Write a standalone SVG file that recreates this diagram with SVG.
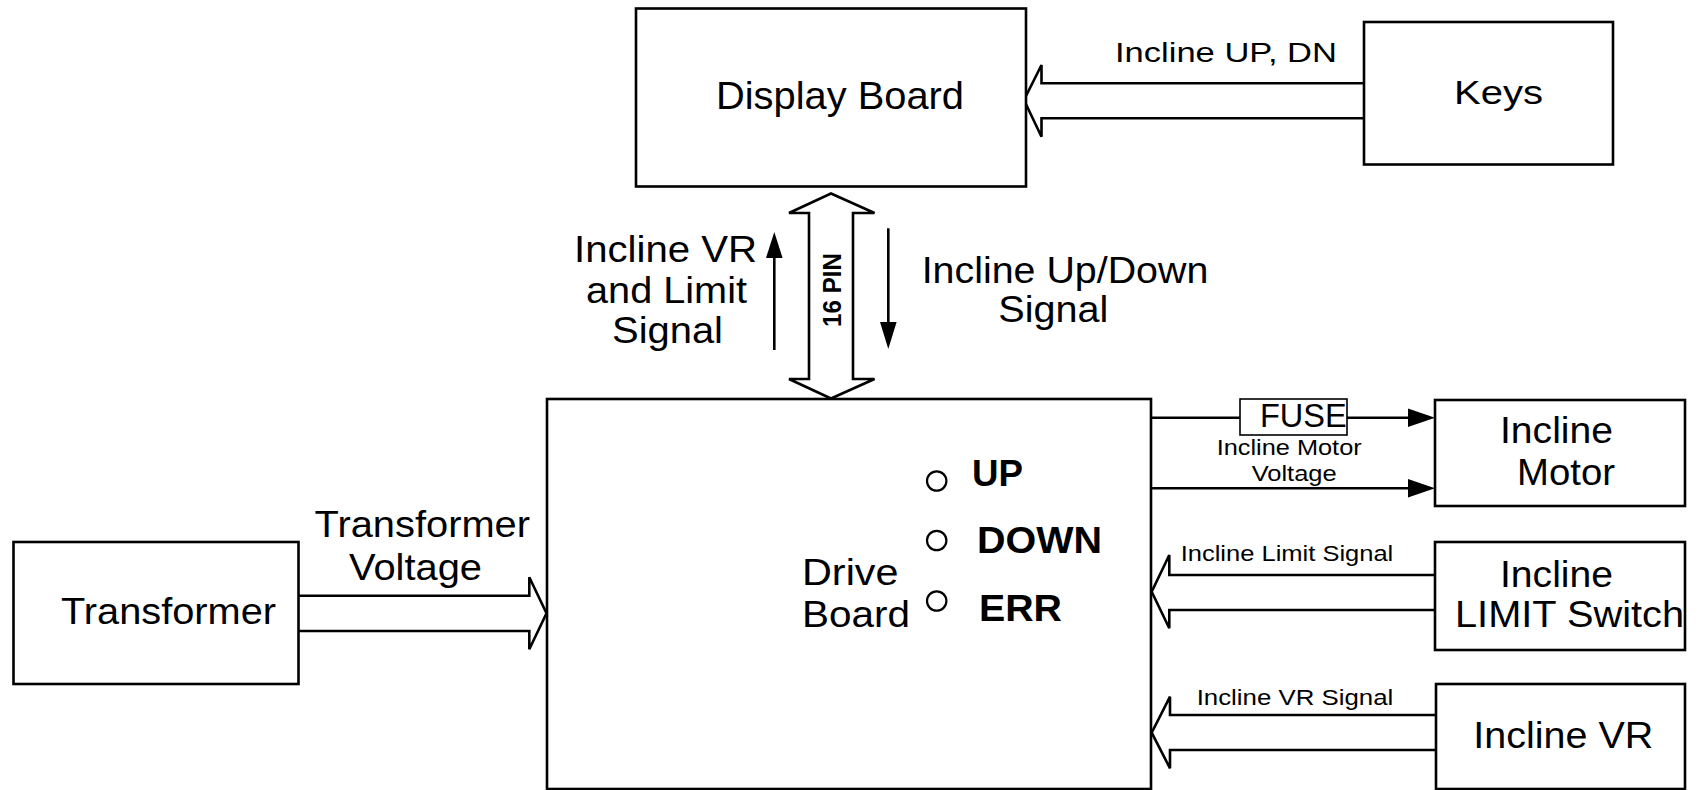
<svg xmlns="http://www.w3.org/2000/svg" width="1699" height="790" viewBox="0 0 1699 790">
<style>
  .box { fill: #ffffff; stroke: #000000; stroke-width: 2.6; }
  .conn { fill: none; stroke: #000000; stroke-width: 2.6; }
  .hollow { fill: #ffffff; stroke: #000000; stroke-width: 2.6; stroke-linejoin: miter; }
  .head { fill: #000000; stroke: none; }
  .led { fill: #ffffff; stroke: #000000; stroke-width: 2.2; }
  text { font-family: "Liberation Sans", Arial, sans-serif; fill: #000000; }
  .big { font-size: 36px; }
  .mid { font-size: 28px; }
  .small { font-size: 22px; }
  .bold { font-weight: bold; }
</style>
<rect width="1699" height="790" fill="#ffffff"/>

<g id="connectors">
  <!-- Keys -> Display Board -->
  <path class="hollow" d="M1364,83.3 L1041.5,83.3 L1041.5,65 L1024,100 L1041.5,136.7 L1041.5,118.3 L1364,118.3"/>
  <!-- 16 PIN double arrow -->
  <path class="hollow" d="M809,213 L789,213 L831,193.5 L874.5,213 L853,213 L853,379 L874.5,379 L831,398.5 L789,379 L809,379 Z"/>
  <!-- up arrow -->
  <line class="conn" x1="774.3" y1="350" x2="774.3" y2="255"/>
  <polygon class="head" points="774.3,232 766,258 782.6,258"/>
  <!-- down arrow -->
  <line class="conn" x1="888.3" y1="228.3" x2="888.3" y2="324"/>
  <polygon class="head" points="888.3,349 880,322 896.6,322"/>
  <!-- FUSE line to motor -->
  <line class="conn" x1="1151" y1="417.7" x2="1240" y2="417.7"/>
  <line class="conn" x1="1347" y1="417.7" x2="1410" y2="417.7"/>
  <polygon class="head" points="1435,417.7 1408,408.5 1408,427"/>
  <!-- second motor line -->
  <line class="conn" x1="1151" y1="488.3" x2="1410" y2="488.3"/>
  <polygon class="head" points="1435,488.3 1408,479 1408,497.5"/>
  <!-- Limit switch -> Drive board -->
  <path class="hollow" d="M1435,575 L1169.3,575 L1169.3,555 L1151.7,591.7 L1169.3,628.3 L1169.3,610 L1435,610"/>
  <!-- VR -> Drive board -->
  <path class="hollow" d="M1436,715 L1170,715 L1170,696.7 L1151.7,732.7 L1170,768.3 L1170,750 L1436,750"/>
  <!-- Transformer -> Drive board -->
  <path class="hollow" d="M298.5,595.7 L529.3,595.7 L529.3,577.3 L546.5,613.3 L529.3,649.3 L529.3,631 L298.5,631"/>
</g>

<g id="display-board">
  <rect class="box" x="636" y="8.5" width="390" height="178"/>
  <text x="716" y="109" font-size="39" textLength="248" lengthAdjust="spacingAndGlyphs">Display Board</text>
</g>

<g id="keys">
  <rect class="box" x="1364" y="22" width="249" height="142.5"/>
  <text x="1454" y="104" font-size="34" textLength="89" lengthAdjust="spacingAndGlyphs">Keys</text>
</g>

<g id="drive-board">
  <rect class="box" x="547" y="399" width="604" height="390"/>
  <text class="big" x="802" y="585" textLength="96.5" lengthAdjust="spacingAndGlyphs">Drive</text>
  <text class="big" x="802" y="627" textLength="108" lengthAdjust="spacingAndGlyphs">Board</text>
  <circle class="led" cx="936.7" cy="481" r="9.7"/>
  <circle class="led" cx="936.7" cy="540.5" r="9.7"/>
  <circle class="led" cx="936.7" cy="601" r="9.7"/>
  <text class="big bold" x="972" y="486" textLength="51" lengthAdjust="spacingAndGlyphs">UP</text>
  <text class="big bold" x="977" y="553" textLength="125" lengthAdjust="spacingAndGlyphs">DOWN</text>
  <text class="big bold" x="979" y="621" textLength="83" lengthAdjust="spacingAndGlyphs">ERR</text>
</g>

<g id="transformer">
  <rect class="box" x="13.5" y="542" width="285" height="142"/>
  <text x="61" y="624" font-size="36" textLength="215" lengthAdjust="spacingAndGlyphs">Transformer</text>
</g>

<g id="incline-motor">
  <rect class="box" x="1435" y="400" width="250" height="106"/>
  <text class="big" x="1500" y="443.3" textLength="113" lengthAdjust="spacingAndGlyphs">Incline</text>
  <text class="big" x="1517" y="485" textLength="98" lengthAdjust="spacingAndGlyphs">Motor</text>
</g>

<g id="incline-limit-switch">
  <rect class="box" x="1435" y="542" width="250" height="108"/>
  <text class="big" x="1500" y="587.3" textLength="113" lengthAdjust="spacingAndGlyphs">Incline</text>
  <text class="big" x="1455" y="626.7" textLength="229" lengthAdjust="spacingAndGlyphs">LIMIT Switch</text>
</g>

<g id="incline-vr">
  <rect class="box" x="1436" y="684" width="249" height="105"/>
  <text class="big" x="1473.3" y="748.3" textLength="180" lengthAdjust="spacingAndGlyphs">Incline VR</text>
</g>

<g id="fuse">
  <rect x="1240" y="399" width="107" height="36" fill="#ffffff" stroke="#000000" stroke-width="1.6"/>
  <text x="1260" y="427" font-size="33" textLength="86.7" lengthAdjust="spacingAndGlyphs">FUSE</text>
</g>

<g id="labels">
  <text class="mid" x="1115" y="61.7" textLength="222" lengthAdjust="spacingAndGlyphs">Incline UP, DN</text>
  <text class="big" x="574" y="261.7" textLength="183" lengthAdjust="spacingAndGlyphs">Incline VR</text>
  <text class="big" x="586" y="303.3" textLength="161" lengthAdjust="spacingAndGlyphs">and Limit</text>
  <text class="big" x="612" y="343.3" textLength="111" lengthAdjust="spacingAndGlyphs">Signal</text>
  <text class="bold" font-size="26" transform="translate(840.5,327) rotate(-90)" textLength="74" lengthAdjust="spacingAndGlyphs">16 PIN</text>
  <text font-size="36" x="921.7" y="282.7" textLength="286.6" lengthAdjust="spacingAndGlyphs">Incline Up/Down</text>
  <text font-size="36" x="998.3" y="321.7" textLength="110" lengthAdjust="spacingAndGlyphs">Signal</text>
  <text class="small" x="1216.7" y="455" textLength="145" lengthAdjust="spacingAndGlyphs">Incline Motor</text>
  <text class="small" x="1251.7" y="481" textLength="85" lengthAdjust="spacingAndGlyphs">Voltage</text>
  <text class="small" x="1180.7" y="560.7" textLength="212.6" lengthAdjust="spacingAndGlyphs">Incline Limit Signal</text>
  <text class="small" x="1196.7" y="705" textLength="196.6" lengthAdjust="spacingAndGlyphs">Incline VR Signal</text>
  <text class="big" x="314.6" y="536.7" textLength="215.4" lengthAdjust="spacingAndGlyphs">Transformer</text>
  <text class="big" x="349" y="580" textLength="133" lengthAdjust="spacingAndGlyphs">Voltage</text>
</g>
</svg>
